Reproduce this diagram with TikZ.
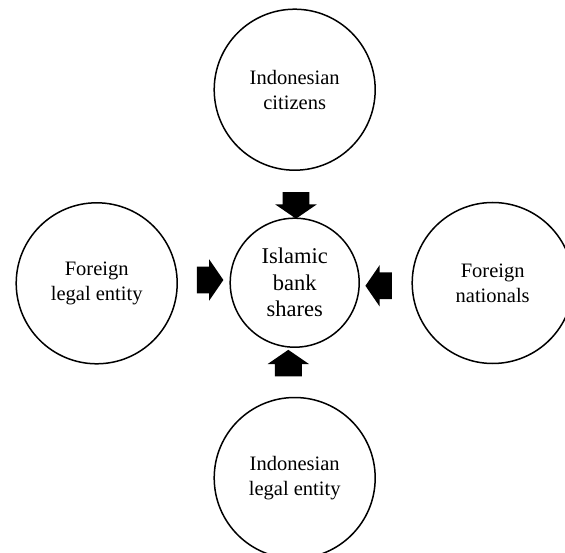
\documentclass[tikz,border=0pt]{standalone}
\usepackage{fontspec}
\setmainfont{Liberation Serif}
\usetikzlibrary{shapes.arrows}

\tikzset{
  party/.style={draw, circle, line width=1.5pt, minimum size=161pt, inner sep=0pt,
    align=center, font=\fontsize{20.5}{25}\selectfont},
  shares/.style={draw, circle, line width=1.5pt, minimum size=129pt, inner sep=0pt,
    align=center, font=\fontsize{22.5}{26.5}\selectfont},
  blockarrow/.style={single arrow, fill=black, draw=none,
    inner xsep=0pt, inner ysep=13.25pt, minimum height=26.5pt,
    single arrow head extend=7.25pt, single arrow tip angle=111}
}

\begin{document}
\begin{tikzpicture}[x=1pt,y=-1pt]
        \useasboundingbox (0,0) rectangle (565,553);

        \node[shares] (bank) at (294.7,282.7) {Islamic\\bank\\shares};
        \node[party] (citizens) at (294.7,89.7) {Indonesian\\citizens};
        \node[party] (foreignle) at (96.7,283.3) {Foreign\\legal entity};
        \node[party] (nationals) at (492.7,283) {Foreign\\nationals};
        \node[party] (indole) at (294.7,478) {Indonesian\\legal entity};

        \node[blockarrow, rotate=-90] (a1) at (296,200.8) {};
        \node[blockarrow] (a2) at (205.5,280) {};
        \node[blockarrow, rotate=180] (a3) at (383.3,285.8) {};
        \node[blockarrow, rotate=90] (a4) at (288.3,367.7) {};
    \end{tikzpicture}
\end{document}
